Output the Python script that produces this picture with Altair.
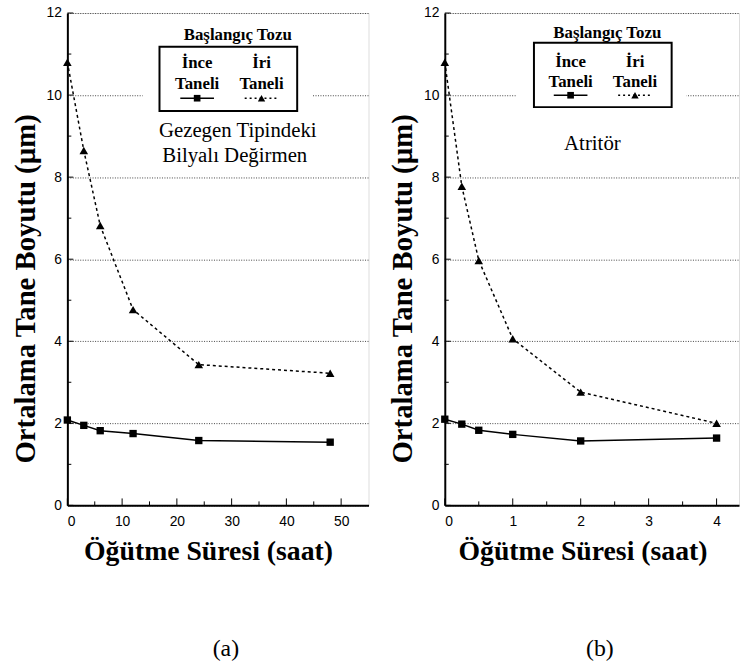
import altair as alt
import pandas as pd

# ---------------- data ----------------
t_a = [0, 3, 6, 12, 24, 48]
ince_a = [2.08, 1.95, 1.82, 1.75, 1.58, 1.54]
iri_a = [10.8, 8.65, 6.82, 4.77, 3.43, 3.22]

t_b = [0, 0.25, 0.5, 1, 2, 4]
ince_b = [2.1, 1.98, 1.83, 1.73, 1.57, 1.64]
iri_b = [10.8, 7.78, 5.97, 4.06, 2.76, 2.0]

y_ticks = [0, 2, 4, 6, 8, 10, 12]
y_minor = [1, 3, 5, 7, 9, 11]
x_ticks_a = [0, 10, 20, 30, 40, 50]
x_minor_a = [5, 15, 25, 35, 45]
x_ticks_b = [0, 1, 2, 3, 4]
x_minor_b = [0.5, 1.5, 2.5, 3.5]

Y_TITLE = "Ortalama Tane Boyutu (µm)"
X_TITLE = "Öğütme Süresi  (saat)"
LEG_TITLE = "Başlangıç Tozu"

H = 497
SERIF = "Liberation Serif"
SANS = "Liberation Sans"

one = alt.Data(values=[{"a": 1}])


def panel(t, ince, iri, xmax, width, xticks, xminor, leg, notes, label, xtitle_x):
    df = pd.DataFrame({"t": t, "ince": ince, "iri": iri})
    xs = alt.Scale(domain=[0, xmax], nice=False, zero=True)
    ys = alt.Scale(domain=[0, 12], nice=False)
    xax = alt.Axis(values=xticks, format="~g", grid=False, ticks=False, labelPadding=9,
                   labelFont=SANS, labelFontSize=14, labelColor="black",
                   domainColor="black", domainWidth=2,
                   title=X_TITLE, titleFont=SERIF, titleFontSize=28,
                   titleFontWeight="bold", titleColor="black", titlePadding=10,
                   titleX=xtitle_x)
    yax = alt.Axis(values=y_ticks, format="~g", grid=True, gridColor="#444", gridDash=[1, 1.5],
                   gridWidth=1, ticks=False, labelPadding=6,
                   labelFont=SANS, labelFontSize=14, labelColor="black",
                   domainColor="black", domainWidth=2,
                   title=Y_TITLE, titleFont=SERIF, titleFontSize=29,
                   titleFontWeight="bold", titleColor="black", titlePadding=6,
                   titleY=278)

    base = alt.Chart(df)
    line_i = base.mark_line(color="black", strokeWidth=1.5).encode(
        x=alt.X("t:Q", scale=xs, axis=xax), y=alt.Y("ince:Q", scale=ys, axis=yax))
    line_r = base.mark_line(color="black", strokeWidth=1.5, strokeDash=[3, 3]).encode(
        x=alt.X("t:Q", scale=xs), y=alt.Y("iri:Q", scale=ys))
    pt_i = base.mark_point(shape="square", filled=True, color="black", size=55, opacity=1).encode(
        x="t:Q", y="ince:Q")
    pt_r = base.mark_point(shape="triangle-up", filled=True, color="black", size=75, opacity=1).encode(
        x="t:Q", y="iri:Q")

    # inner tick marks
    ymin_df = pd.DataFrame({"v": y_minor})
    ymaj_df = pd.DataFrame({"v": y_ticks})
    xmin_df = pd.DataFrame({"v": xminor})
    xmaj_df = pd.DataFrame({"v": xticks})
    tk1 = alt.Chart(ymin_df).mark_rule(color="black", strokeWidth=1).encode(
        y=alt.Y("v:Q", scale=ys), x=alt.value(0), x2=alt.value(4))
    tk2 = alt.Chart(ymaj_df).mark_rule(color="black", strokeWidth=1).encode(
        y=alt.Y("v:Q", scale=ys), x=alt.value(0), x2=alt.value(6))
    tk3 = alt.Chart(xmin_df).mark_rule(color="black", strokeWidth=1).encode(
        x=alt.X("v:Q", scale=xs), y=alt.value(H), y2=alt.value(H - 4))
    tk4 = alt.Chart(xmaj_df).mark_rule(color="black", strokeWidth=1).encode(
        x=alt.X("v:Q", scale=xs), y=alt.value(H), y2=alt.value(H - 7))

    # legend (annotation, in pixels relative to plot)
    wx0, wx1, bx0, bx1, by0, by1, tx, ty, c1, c2, ly1, ly2, ly3 = leg
    white = alt.Chart(one).mark_rect(color="white").encode(
        x=alt.value(wx0), x2=alt.value(wx1), y=alt.value(by0 - 6), y2=alt.value(by1 + 2))
    box = alt.Chart(one).mark_rect(fill="white", stroke="black", strokeWidth=2).encode(
        x=alt.value(bx0), x2=alt.value(bx1), y=alt.value(by0), y2=alt.value(by1))
    tfont = dict(font=SERIF, fontWeight="bold", color="black", align="center", baseline="middle")
    ltitle = alt.Chart(one).mark_text(fontSize=17, **tfont).encode(
        x=alt.value(tx), y=alt.value(ty), text=alt.value(LEG_TITLE))
    l1 = alt.Chart(one).mark_text(fontSize=17, **tfont).encode(
        x=alt.value(c1), y=alt.value(ly1), text=alt.value("İnce"))
    l2 = alt.Chart(one).mark_text(fontSize=17, **tfont).encode(
        x=alt.value(c2), y=alt.value(ly1), text=alt.value("İri"))
    l3 = alt.Chart(one).mark_text(fontSize=17, **tfont).encode(
        x=alt.value(c1), y=alt.value(ly2), text=alt.value("Taneli"))
    l4 = alt.Chart(one).mark_text(fontSize=17, **tfont).encode(
        x=alt.value(c2), y=alt.value(ly2), text=alt.value("Taneli"))
    s1 = alt.Chart(one).mark_rule(color="black", strokeWidth=1.5).encode(
        x=alt.value(c1 - 17), x2=alt.value(c1 + 17), y=alt.value(ly3))
    s2 = alt.Chart(one).mark_rule(color="black", strokeWidth=1.5, strokeDash=[2, 3]).encode(
        x=alt.value(c2 - 17), x2=alt.value(c2 + 17), y=alt.value(ly3))
    p1 = alt.Chart(one).mark_point(shape="square", filled=True, color="black", size=45, opacity=1).encode(
        x=alt.value(c1), y=alt.value(ly3))
    p2 = alt.Chart(one).mark_point(shape="triangle-up", filled=True, color="black", size=55, opacity=1).encode(
        x=alt.value(c2), y=alt.value(ly3))

    note_layers = []
    for (nx, ny, txt) in notes:
        note_layers.append(alt.Chart(one).mark_text(
            font=SERIF, fontSize=21, color="black", align="center", baseline="middle").encode(
            x=alt.value(nx), y=alt.value(ny), text=alt.value(txt)))

    return alt.layer(
        line_i, line_r, pt_i, pt_r, tk1, tk2, tk3, tk4,
        white, box, ltitle, l1, l2, l3, l4, s1, s2, p1, p2, *note_layers
    ).properties(
        width=width, height=H,
        title=alt.TitleParams(label, orient="bottom", anchor="middle", frame="group",
                              dx=8, offset=72, font=SERIF, fontSize=24,
                              fontWeight="normal", color="black"),
    )


pa = panel(t_a, ince_a, iri_a, 55, 304, x_ticks_a, x_minor_a,
           (76, 247, 93, 232, 34, 99, 172, 22, 131, 196, 50, 72, 86),
           [(172, 119, "Gezegen Tipindeki"), (169, 144, "Bilyalı Değirmen")], "(a)", 142)
pb = panel(t_b, ince_b, iri_b, 4.33, 297, x_ticks_b, x_minor_b,
           (72, 244, 90, 229, 30, 95, 164, 20, 127, 192, 49, 70, 83),
           [(149, 132, "Atritör")], "(b)", 139)

chart = alt.hconcat(pa, pb, spacing=18).properties(
    padding={"left": 10, "top": 2, "right": 0, "bottom": 0}
).configure_view(stroke="black", strokeWidth=1.5).configure(background="white")

chart.save("out.html", embed_options={"renderer": "svg", "actions": False})
